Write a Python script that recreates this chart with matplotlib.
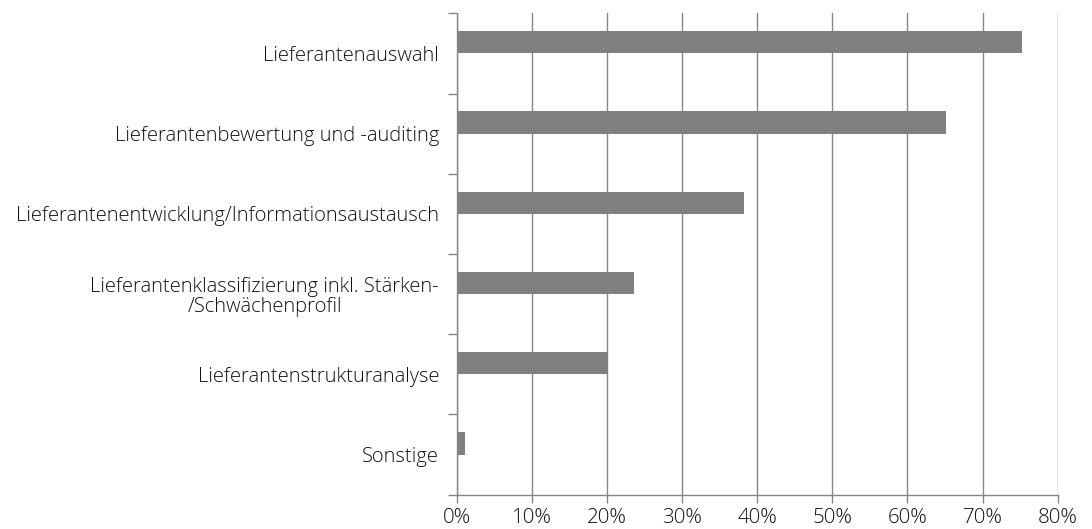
import matplotlib
matplotlib.use("Agg")
import matplotlib.pyplot as plt
from matplotlib.ticker import FixedLocator, PercentFormatter

categories = [
    "Lieferantenauswahl",
    "Lieferantenbewertung und -auditing",
    "Lieferantenentwicklung/Informationsaustausch",
    "Lieferantenklassifizierung inkl. Stärken-\n/Schwächenprofil",
    "Lieferantenstrukturanalyse",
    "Sonstige",
]
values = [75.3, 65.1, 38.2, 23.6, 20.2, 1.1]
x_ticks = [0, 10, 20, 30, 40, 50, 60, 70, 80]

plt.rcParams["font.family"] = ["Open Sans", "DejaVu Sans"]
plt.rcParams["font.weight"] = "light"

fig = plt.figure(figsize=(10.92, 5.29), dpi=100)
ax = fig.add_axes([456.7 / 1092, 1 - 494.7 / 529, (1057.7 - 456.7) / 1092, (494.7 - 13.3) / 529])

grid_c = "#868686"
bar_c = "#808080"
txt_c = "#111111"
n = len(categories)
pos = list(range(n))
bar_h = 0.278
ax.barh([p - bar_h / 2 for p in pos], values, height=bar_h, color=bar_c, zorder=3)

ax.set_xlim(0, 80)
ax.set_ylim(n - 0.5, -0.5)

ax.xaxis.set_major_locator(FixedLocator(x_ticks))
ax.xaxis.set_major_formatter(PercentFormatter(decimals=0))
ax.grid(axis="x", color=grid_c, linewidth=1.0, zorder=1)
ax.tick_params(axis="x", direction="out", length=6, width=1.0, color=grid_c,
               labelsize=14.8, labelcolor=txt_c, pad=3.5)

ax.set_yticks([p - 0.5 for p in pos] + [n - 0.5])
ax.set_yticklabels([])
ax.set_yticks(pos, minor=True)
ax.set_yticklabels(categories, minor=True, fontsize=14.5, color=txt_c, ha="right",
                   multialignment="center")
for lbl in ax.get_yticklabels(minor=True):
    lbl.set_linespacing(1.0)
ax.tick_params(axis="y", which="major", direction="out", length=6.5, width=1.0, color=grid_c)
ax.tick_params(axis="y", which="minor", length=0, pad=12.7)

for s in ["top", "right"]:
    ax.spines[s].set_visible(False)
for s in ["left", "bottom"]:
    ax.spines[s].set_color(grid_c)
    ax.spines[s].set_linewidth(1.0)
    ax.spines[s].set_zorder(4)

fig.savefig("out.png", dpi=100)
